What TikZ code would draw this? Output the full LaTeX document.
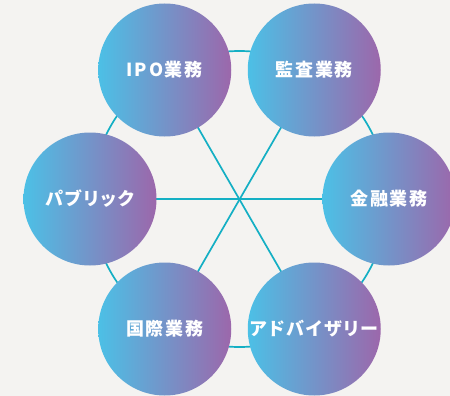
\documentclass[tikz,border=0pt]{standalone}
\usepackage{fontspec}
\newfontfamily\jp{Noto Sans CJK JP}[RawFeature=+palt, LetterSpace=10]
\usetikzlibrary{backgrounds}
\definecolor{bgc}{HTML}{F4F3F1}
\definecolor{linec}{HTML}{14AFC4}
\definecolor{cl}{HTML}{4CC0E6}
\definecolor{cr}{HTML}{9C67AB}
\tikzset{
  bub/.style={circle, minimum size=133pt, inner sep=0pt, left color=cl, right color=cr,
    text=white, font=\jp\bfseries\fontsize{18}{20}\selectfont},
  conn/.style={draw=linec, line width=1.7pt}
}
\begin{document}
\begin{tikzpicture}[x=1pt, y=-1pt]
\useasboundingbox (0,0) rectangle (450,396);
\coordinate (hub) at (239.5,199);
\node[bub] (ipo) at (164.75,70) {IPO業務};
\node[bub] (aud) at (314.25,70) {監査業務};
\node[bub] (fin) at (389,199) {金融業務};
\node[bub] (adv) at (314.25,329) {アドバイザリー};
\node[bub] (intl) at (164.75,329) {国際業務};
\node[bub] (pub) at (90,199) {パブリック};
\begin{scope}[on background layer]
  \fill[bgc] (0,0) rectangle (450,396);
  \draw[conn] (hub) circle[radius=148pt];
  \draw[conn] (pub.center) -- (fin.center);
  \draw[conn] (ipo.center) -- (adv.center);
  \draw[conn] (aud.center) -- (intl.center);
\end{scope}
\end{tikzpicture}
\end{document}
